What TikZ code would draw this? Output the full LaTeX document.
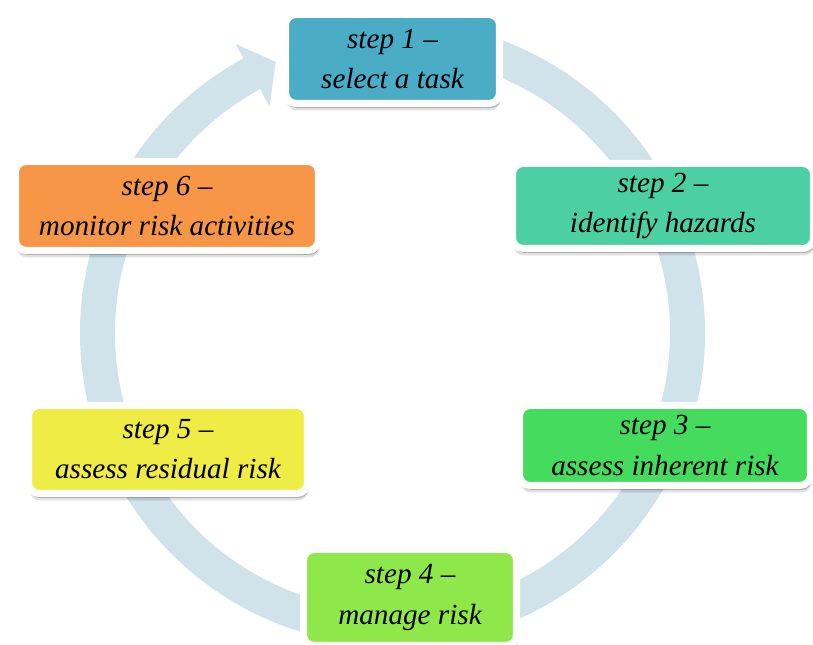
\documentclass[tikz,border=0pt]{standalone}
\usepackage{fontspec}
\setmainfont{Liberation Serif}
\usepackage{tikz}
\usepackage{xcolor}
\usetikzlibrary{arrows.meta,shadows,calc}
\definecolor{ringblue}{HTML}{D0E2EA}
\definecolor{taskblue}{HTML}{4BACC6}
\definecolor{hazgreen}{HTML}{4BCFA3}
\definecolor{inhgreen}{HTML}{45DB5D}
\definecolor{mangreen}{HTML}{8EE84A}
\definecolor{resyellow}{HTML}{EFED45}
\definecolor{monorange}{HTML}{F79646}
\tikzset{
  stepcard/.style={draw=white,fill=#1,line width=2pt,rounded corners=3pt,
                   align=center,inner sep=2pt,
                   font=\itshape\fontsize{8.3}{11.4}\selectfont,
                   general shadow={shadow xshift=0.01cm,shadow yshift=-0.07cm,
                                   shadow scale=1.0,opacity=0.12,fill=black},
                   general shadow={shadow xshift=0.015cm,shadow yshift=-0.045cm,
                                   opacity=0.22,fill=black}},
  ring/.style={fill=ringblue,draw=none}
}

\begin{document}
\begin{tikzpicture}[x=1cm,y=1cm]
    \path[use as bounding box] (0,0) rectangle (8.13,6.45);
    % cycle ring with arrow head
    \coordinate (c) at (3.925,3.12);
    \fill[ring] ($(c)+(90:3.125)$) arc[start angle=90,end angle=-241.5,radius=3.125]
      -- ($(c)+(-241.5:3.29)$) -- ($(c)+(-246.7:2.95)$) -- ($(c)+(-241.5:2.58)$)
      -- ($(c)+(-241.5:2.775)$) arc[start angle=-241.5,end angle=90,radius=2.775]
      -- cycle;

    \node[stepcard=taskblue,minimum width=2.14cm,minimum height=0.89cm] (task)
      at (3.925,5.86) {step 1 –\\select a task};
    \node[stepcard=hazgreen,minimum width=3.01cm,minimum height=0.85cm] (hazards)
      at (6.63,4.39) {step 2 –\\identify hazards};
    \node[stepcard=inhgreen,minimum width=2.91cm,minimum height=0.80cm] (inherent)
      at (6.65,1.995) {step 3 –\\assess inherent risk};
    \node[stepcard=mangreen,minimum width=2.13cm,minimum height=0.96cm] (manage)
      at (4.10,0.475) {step 4 –\\manage risk};
    \node[stepcard=resyellow,minimum width=2.79cm,minimum height=0.88cm] (residual)
      at (1.68,1.955) {step 5 –\\assess residual risk};
    \node[stepcard=monorange,minimum width=3.03cm,minimum height=0.89cm] (monitor)
      at (1.67,4.39) {step 6 –\\monitor risk activities};
  \end{tikzpicture}
\end{document}
